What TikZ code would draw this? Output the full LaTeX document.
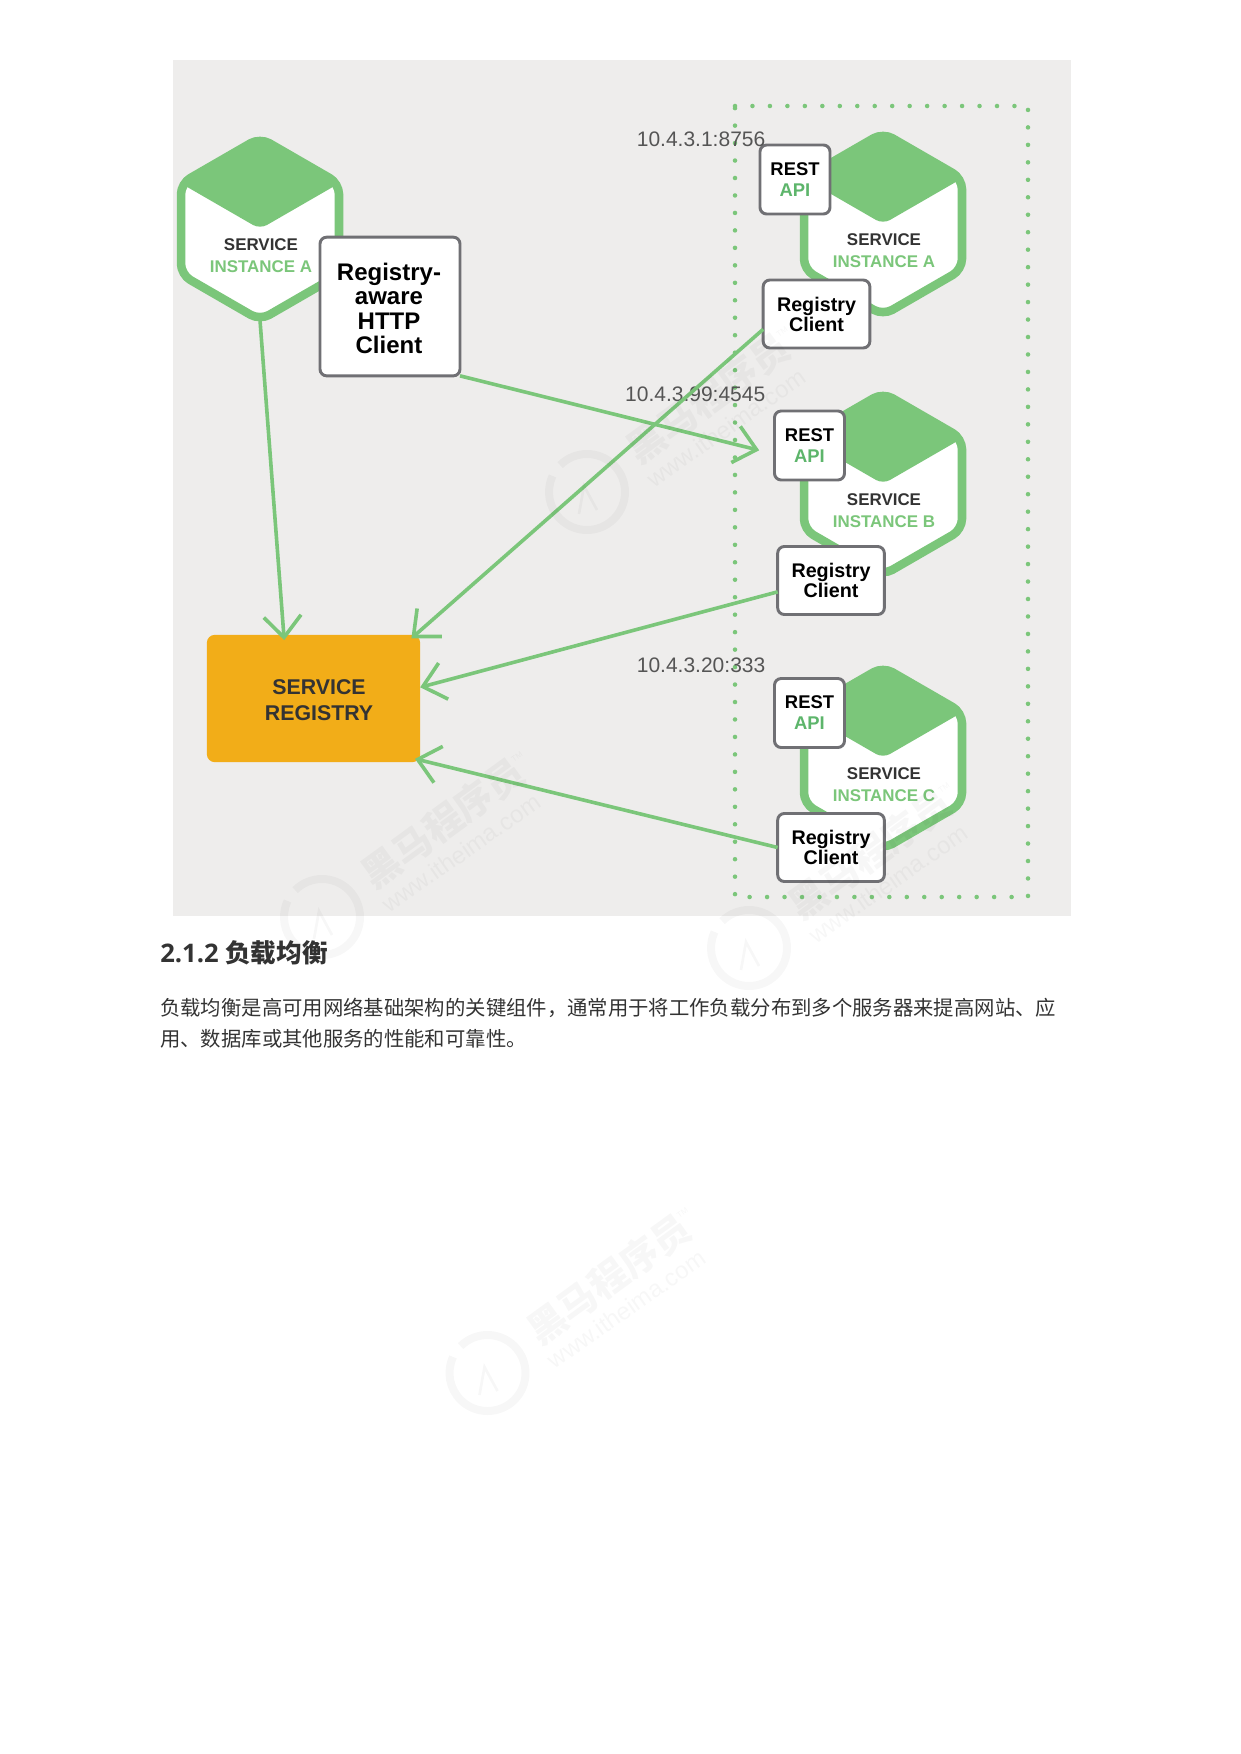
\documentclass[tikz,border=0pt]{standalone}
\usepackage{fontspec}
\setmainfont{Liberation Sans}
\newfontfamily\cjk{Noto Sans CJK SC}
\newfontfamily\headfont{Open Sans}
\usetikzlibrary{arrows.meta,shapes.geometric}
\definecolor{panelgray}{HTML}{EEEDEC}
\definecolor{svcgreen}{HTML}{7BC67A}
\definecolor{apigreen}{HTML}{5DB56B}
\definecolor{boxgray}{HTML}{707074}
\definecolor{regorange}{HTML}{F2AD18}
\definecolor{labelgray}{HTML}{555555}
\definecolor{inkgray}{HTML}{333333}
\begin{document}
\begin{tikzpicture}[x=0.75pt,y=-0.75pt,>={Straight Barb[length=16pt,width=28pt]},
  hexbody/.style={regular polygon,regular polygon sides=6,shape border rotate=30,draw=svcgreen,fill=white,line width=6.4pt,rounded corners=8pt,inner sep=0pt,outer sep=0pt,minimum size=136.8pt},
  hexlid/.style={fill=svcgreen,rounded corners=6pt},
  hextext/.style={align=center,font=\bfseries\fontsize{12.7}{16.5}\selectfont,text=inkgray},
  whitebox/.style={draw=boxgray,fill=white,line width=2.2pt,rounded corners=5pt,inner sep=0pt,outer sep=0pt,align=center},
  restbox/.style={whitebox,minimum width=52.5pt,minimum height=51.75pt,font=\bfseries\fontsize{13.8}{15.75}\selectfont},
  clientbox/.style={whitebox,minimum width=80pt,minimum height=51pt,font=\bfseries\fontsize{14.8}{15}\selectfont},
  addr/.style={anchor=east,text=labelgray,font=\fontsize{15.75}{18}\selectfont},
  wire/.style={->,draw=svcgreen,line width=2.7pt,shorten >=-4pt},
  wmark/.style={opacity=0.03,text opacity=0.03}]
  \useasboundingbox (0,0) rectangle (1240,1754);
  \fill[panelgray] (173,60) rectangle (1071,916);
  \draw[svcgreen,line width=3.4pt,line cap=round,dash pattern=on 0pt off 13.1pt] (735,106) -- (1028,106) -- (1028,897) -- (735,897) -- cycle;
  % hexagons
  \foreach \hname/\hx/\hy/\hletter in {hexa/260/229/A,hexra/883/224/A,hexrb/883/484/B,hexrc/883/758/C}{
    \node[hexbody] (\hname) at (\hx,\hy) {};
    \fill[hexlid,shift={(\hx,\hy)}] (0,-91) -- (79,-45.6) -- (0,0) -- (-79,-45.6) -- cycle;
    \node[hextext] (\hname text) at (\hx+1,\hy+27) {SERVICE\\\textcolor{svcgreen}{INSTANCE \hletter}};
  }
  % boxes
  \node[whitebox,minimum width=105pt,minimum height=104pt] (aware) at (390,306.5) {};
  \node[align=center,font=\bfseries\fontsize{18}{18.4}\selectfont] (awaretext) at (389,308.5) {Registry-\\aware\\HTTP\\Client};
  \node[restbox] (resta) at (795,179.5) {REST\\\textcolor{apigreen}{API}};
  \node[restbox] (restb) at (809.5,445.5) {REST\\\textcolor{apigreen}{API}};
  \node[restbox] (restc) at (809.5,713) {REST\\\textcolor{apigreen}{API}};
  \node[clientbox] (clienta) at (816.5,314) {Registry\\Client};
  \node[clientbox] (clientb) at (831,580.5) {Registry\\Client};
  \node[clientbox] (clientc) at (831,847.5) {Registry\\Client};
  \node[fill=regorange,rounded corners=6pt,minimum width=160pt,minimum height=95.5pt,inner sep=0pt,outer sep=0pt] (registry) at (313.5,698.5) {};
  \node[align=center,text=inkgray,font=\bfseries\fontsize{16}{19.5}\selectfont] (registrytext) at (319,700) {SERVICE\\REGISTRY};
  % addresses
  \node[addr] (addra) at (770,139) {10.4.3.1:8756};
  \node[addr] (addrb) at (770,394) {10.4.3.99:4545};
  \node[addr] (addrc) at (770,665) {10.4.3.20:333};
  % connectors
  \coordinate (awaretip) at (754,449);
  \draw[wire] (hexa.south) -- (registry.115);
  \draw[wire] (aware.south east) -- (awaretip);
  \draw[wire] (clienta.196) -- (registry.32.8);
  \draw[wire,shorten >=0pt] (clientb.192) -- (registry.6);
  \draw[wire] (clientc.west) -- (registry.-30);
  % text below
  \node[anchor=west,text=inkgray,font=\headfont\bfseries\fontsize{19.2}{23}\selectfont,inner sep=0pt] (heading) at (160,953) {2.1.2 {\cjk\bfseries 负载均衡}};
  \node[anchor=west,align=left,text=inkgray,font=\cjk\fontsize{15.27}{23.25}\selectfont,inner sep=0pt] (bodytext) at (160,1023) {负载均衡是高可用网络基础架构的关键组件，通常用于将工作负载分布到多个服务器来提高网站、应\\用、数据库或其他服务的性能和可靠性。};
  % watermarks
  \foreach \wn/\wx/\wy in {a/322/917,b/749/948,c/487.5/1373,d/587/492}{
    \draw[wmark,line width=6pt] (\wx,\wy) ++(225:38) arc[start angle=225,end angle=565,radius=38];
    \draw[wmark,line width=2pt] (\wx-8,\wy+22) -- (\wx-3,\wy-6) -- (\wx+10,\wy+18);
    \node[wmark,rotate=36,font=\cjk\bfseries\fontsize{28.5}{30}\selectfont] (wm\wn) at (\wx+121,\wy-94) {黑马程序员};
    \node[wmark,rotate=35,font=\fontsize{18}{20}\selectfont] (wmurl\wn) at (\wx+139,\wy-64) {www.itheima.com};
    \node[wmark,rotate=36,font=\fontsize{6}{7}\selectfont] (wmtm\wn) at (\wx+195,\wy-160) {TM};
  }
\end{tikzpicture}
\end{document}
